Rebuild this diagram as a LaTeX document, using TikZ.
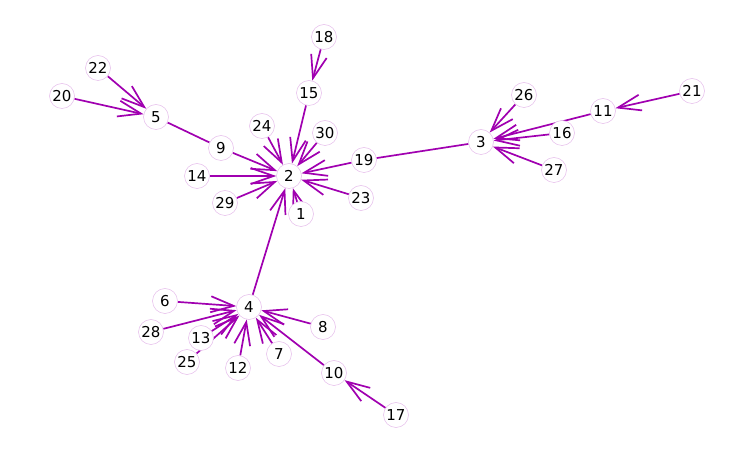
\documentclass[tikz,border=0pt]{standalone}
\usepackage{fontspec}
\setmainfont{DejaVu Sans}
\usetikzlibrary{arrows.meta, backgrounds}

\definecolor{edgecol}{RGB}{160,0,176}
\definecolor{ringcol}{RGB}{228,186,234}

\tikzset{
	vertex/.style={circle, draw=ringcol, line width=0.5pt, fill=white, minimum size=25pt, inner sep=0pt, font=\fontsize{15}{15}\selectfont},
	link/.style={edgecol, line width=1.7pt},
	arc/.style={link, -{Straight Barb[length=23pt, width=16pt, line width=1.7pt]}}
}

\begin{document}
\begin{tikzpicture}[x=1pt, y=-1pt]
	\useasboundingbox (0,0) rectangle (756,454);

	\foreach \n/\x/\y in {1/301/214, 2/289/176, 3/481/142, 4/249/307, 5/156/117,
		6/165/301, 7/279/354, 8/323/327, 9/221/148, 10/334/373,
		11/603/111, 12/238/368, 13/201/338, 14/197/176, 15/309/93,
		16/562/133, 17/396/415, 18/324/37, 19/364/160, 20/62/96,
		21/692/91, 22/98/68, 23/361/198, 24/262/126, 25/187/362,
		26/524/95, 27/554/170, 28/151/332, 29/225/203, 30/325/133}
	{
		\node[vertex] (v\n) at (\x,\y) {\n};
	}

	\begin{pgfonlayer}{background}
		\draw[link] (v5) -- (v9);
		\draw[link] (v19) -- (v3);

		\foreach \s/\t in {22/5, 20/5, 18/15, 15/2, 24/2, 30/2, 9/2, 14/2, 29/2,
			1/2, 23/2, 19/2, 4/2, 26/3, 11/3, 16/3, 27/3, 21/11, 6/4, 28/4,
			13/4, 25/4, 12/4, 7/4, 8/4, 10/4, 17/10}
		{
			\draw[arc] (v\s) -- (v\t);
		}
	\end{pgfonlayer}
\end{tikzpicture}
\end{document}
